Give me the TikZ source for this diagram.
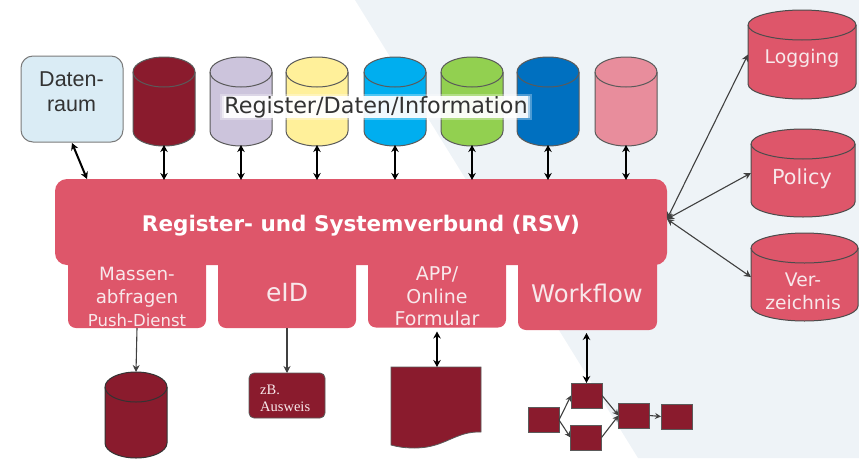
\documentclass[tikz,border=0pt]{standalone}
\usepackage{fontspec}
\setmainfont{DejaVu Sans}
\newfontfamily\arialf{Liberation Sans}
\newfontfamily\timesf{Liberation Serif}
\usetikzlibrary{arrows.meta,calc}
\definecolor{rsvred}{HTML}{DE566A}
\definecolor{darkred}{HTML}{8A1B2D}
\definecolor{bgblue}{HTML}{EEF3F7}
\definecolor{edgegrey}{HTML}{5A5A5A}
\definecolor{softwhite}{HTML}{F8E8EB}
\definecolor{raumblue}{HTML}{DAECF5}
\definecolor{lilac}{HTML}{CCC4DC}
\definecolor{softyellow}{HTML}{FFF09A}
\definecolor{skyblue}{HTML}{00AEEF}
\definecolor{leaf}{HTML}{92D050}
\definecolor{deepblue}{HTML}{0070C0}
\definecolor{softpink}{HTML}{E88D9C}
\tikzset{
  cyl/.style={draw=edgegrey,line width=1pt,fill=#1},
  bigcyl/.style={draw=black!70,line width=1pt,fill=rsvred},
  tab/.style={shape=rectangle,fill=rsvred,rounded corners=8pt,inner sep=0pt,outer sep=0pt,minimum width=138pt},
  wfbox/.style={shape=rectangle,fill=darkred,draw=edgegrey,line width=.8pt,inner sep=0pt,outer sep=0pt,minimum width=31pt,minimum height=25pt},
  lab/.style={text=softwhite,inner sep=0pt,align=center},
  thickarr/.style={{Stealth[length=7pt,width=7.5pt]}-{Stealth[length=7pt,width=7.5pt]},line width=2pt,black},
  thinarr/.style={-{Stealth[length=7pt,width=7pt]},line width=1.1pt,black!75},
  thindbl/.style={{Stealth[length=7pt,width=7pt]}-{Stealth[length=7pt,width=7pt]},line width=1.1pt,black!75},
  wfarr/.style={-{Stealth[length=6pt,width=6pt]},line width=1.1pt,black!75},
}
% name, cx, cy, width, height, end-ellipse radius, path style
\newcommand{\dbcyl}[7]{%
  \node[shape=rectangle,inner sep=0pt,outer sep=0pt,minimum width=#4pt,minimum height=#5pt] (#1) at (#2,#3) {};
  \pgfmathsetmacro\crx{#4/2}\pgfmathsetmacro\ckx{.5523*\crx}\pgfmathsetmacro\cky{.5523*#6}
  \pgfmathsetmacro\cxl{#2-\crx}\pgfmathsetmacro\cxr{#2+\crx}
  \pgfmathsetmacro\cyt{#3-#5/2}\pgfmathsetmacro\cyb{#3+#5/2}
  \pgfmathsetmacro\cmt{\cyt+#6}\pgfmathsetmacro\cmb{\cyb-#6}
  \draw[#7] (\cxl,\cmt) .. controls (\cxl,\cmt-\cky) and (#2-\ckx,\cyt) .. (#2,\cyt)
    .. controls (#2+\ckx,\cyt) and (\cxr,\cmt-\cky) .. (\cxr,\cmt)
    -- (\cxr,\cmb) .. controls (\cxr,\cmb+\cky) and (#2+\ckx,\cyb) .. (#2,\cyb)
    .. controls (#2-\ckx,\cyb) and (\cxl,\cmb+\cky) .. (\cxl,\cmb) -- cycle;
  \draw[#7,fill=none] (\cxl,\cmt) .. controls (\cxl,\cmt+\cky) and (#2-\ckx,\cmt+#6) .. (#2,\cmt+#6)
    .. controls (#2+\ckx,\cmt+#6) and (\cxr,\cmt+\cky) .. (\cxr,\cmt);
}
\begin{document}
\begin{tikzpicture}[x=1pt,y=-1pt]
\useasboundingbox (0,0) rectangle (859,458);
\fill[bgblue] (355,0) -- (859,0) -- (859,458) -- (638,458) -- cycle;

% top row
\node[shape=rectangle,draw=edgegrey!80,fill=raumblue,line width=1pt,rounded corners=12pt,inner sep=0pt,outer sep=0pt,minimum width=102pt,minimum height=86pt] (raum) at (72,99) {};
\node[inner sep=0pt,align=center,text=black!80,font=\arialf\fontsize{21.5}{25}\selectfont] (raumt) at (71.5,92) {Daten-\\raum};
\dbcyl{c1}{164}{101.5}{62}{89}{15}{cyl=darkred}
\dbcyl{c2}{241}{101.5}{62}{89}{15}{cyl=lilac}
\dbcyl{c3}{317}{101.5}{62}{89}{15}{cyl=softyellow}
\dbcyl{c4}{395}{101.5}{62}{89}{15}{cyl=skyblue}
\dbcyl{c5}{472}{101.5}{62}{89}{15}{cyl=leaf}
\dbcyl{c6}{548}{101.5}{62}{89}{15}{cyl=deepblue}
\dbcyl{c7}{626}{101.5}{62}{89}{15}{cyl=softpink}

% glow band and label
\fill[white,opacity=.3] (220,94) rectangle (532,120);
\fill[white,opacity=.5] (222,96) rectangle (530,118);
\node[fill=white,fill opacity=.85,text opacity=1,inner sep=0pt,minimum width=304pt,minimum height=19pt,text=black!80,font=\fontsize{22.3}{24}\selectfont] (reg) at (376,107) {Register/Daten/Information};

% service tabs and main block
\node[tab,minimum height=78pt] (t1) at (137,289) {};
\node[tab,minimum height=78pt] (t2) at (287,289) {};
\node[tab,minimum height=78pt] (t3) at (437,288.5) {};
\node[tab,minimum width=139pt,minimum height=80pt] (t4) at (587.5,290) {};
\node[shape=rectangle,fill=rsvred,rounded corners=12pt,inner sep=0pt,outer sep=0pt,minimum width=612pt,minimum height=86pt] (rsv) at (361,222) {};
\node[inner sep=0pt,text=white,font=\bfseries\fontsize{21.5}{24}\selectfont] (rsvt) at (361,226) {Register- und Systemverbund (RSV)};

\node[lab,font=\fontsize{18.3}{23}\selectfont] (m1) at (137,287.5) {Massen-\\abfragen};
\node[lab,font=\fontsize{16.5}{18}\selectfont] (m2) at (137,320) {Push-Dienst};
\node[lab,font=\fontsize{25}{28}\selectfont] (eid) at (287,293) {eID};
\node[lab,font=\fontsize{24.3}{28}\selectfont] (wf) at (587,293) {Workflow};
\node[lab,font=\fontsize{19}{22.5}\selectfont] (app) at (437,296.5) {APP/\\Online\\Formular};

% right databases
\dbcyl{log}{802}{54.5}{108}{89}{15}{bigcyl}
\dbcyl{pol}{803}{173}{104}{88}{15}{bigcyl}
\dbcyl{ver}{804.5}{277}{107}{88}{15}{bigcyl}
\node[lab,font=\fontsize{18.8}{22}\selectfont] (logt) at (802,58) {Logging};
\node[lab,font=\fontsize{20.7}{24}\selectfont] (polt) at (802,178.5) {Policy};
\node[lab,font=\fontsize{18.7}{23}\selectfont] (vert) at (803,291) {Ver-\\zeichnis};

% bottom row
\dbcyl{bc}{136}{415}{62}{86}{15}{cyl=darkred,draw=black!80}
\node[shape=rectangle,fill=darkred,draw=edgegrey,line width=.8pt,rounded corners=5pt,inner sep=0pt,outer sep=0pt,minimum width=76pt,minimum height=45pt] (zb) at (287,395.5) {};
\node[text=softwhite,inner sep=0pt,align=left,anchor=west,font=\timesf\fontsize{14.5}{17}\selectfont] (zbt) at (260,398) {zB.\\Ausweis};

\fill[darkred,draw=edgegrey,line width=.8pt] (391,367) -- (481,367) -- (481,432)
  .. controls (455,431) and (445,448) .. (415,448) .. controls (405,448) and (398,447) .. (391,445) -- cycle;
\coordinate (doc) at (437,367);

\node[wfbox] (w1) at (543.5,420) {};
\node[wfbox] (w2) at (586.5,395.5) {};
\node[wfbox] (w3) at (586,437.5) {};
\node[wfbox] (w4) at (634,415.5) {};
\node[wfbox] (w5) at (676.5,416.5) {};

% connectors
\coordinate (ra) at (72,143);
\coordinate (rb) at (87,179);
\draw[thickarr] (ra) -- (rb);
\foreach \n in {c1,c2,c3,c4,c5,c6,c7}
  \draw[thickarr] ($(\n.south)+(0,-1)$) -- ($(\n.south |- rsv.north)+(0,1)$);
\draw[thinarr] (t1.south) -- (bc.north);
\draw[thinarr] (t2.south) -- (zb.north);
\draw[thickarr] ($(t3.south)+(0,4)$) -- (doc);
\draw[thickarr] ($(w2.north |- t4.south)+(0,3)$) -- (w2.north);

\coordinate (hub) at (667,219);
\draw[thindbl] (hub) -- (log.west);
\draw[thindbl] (hub) -- (pol.west);
\draw[thindbl] (hub) -- (ver.west);

\draw[wfarr] (w1.east) -- (w2.west);
\draw[wfarr] (w1.east) -- (w3.west);
\draw[wfarr] (w2.east) -- (w4.west);
\draw[wfarr] (w3.east) -- (w4.west);
\draw[wfarr] (w4.east) -- (w5.west);
\end{tikzpicture}
\end{document}
